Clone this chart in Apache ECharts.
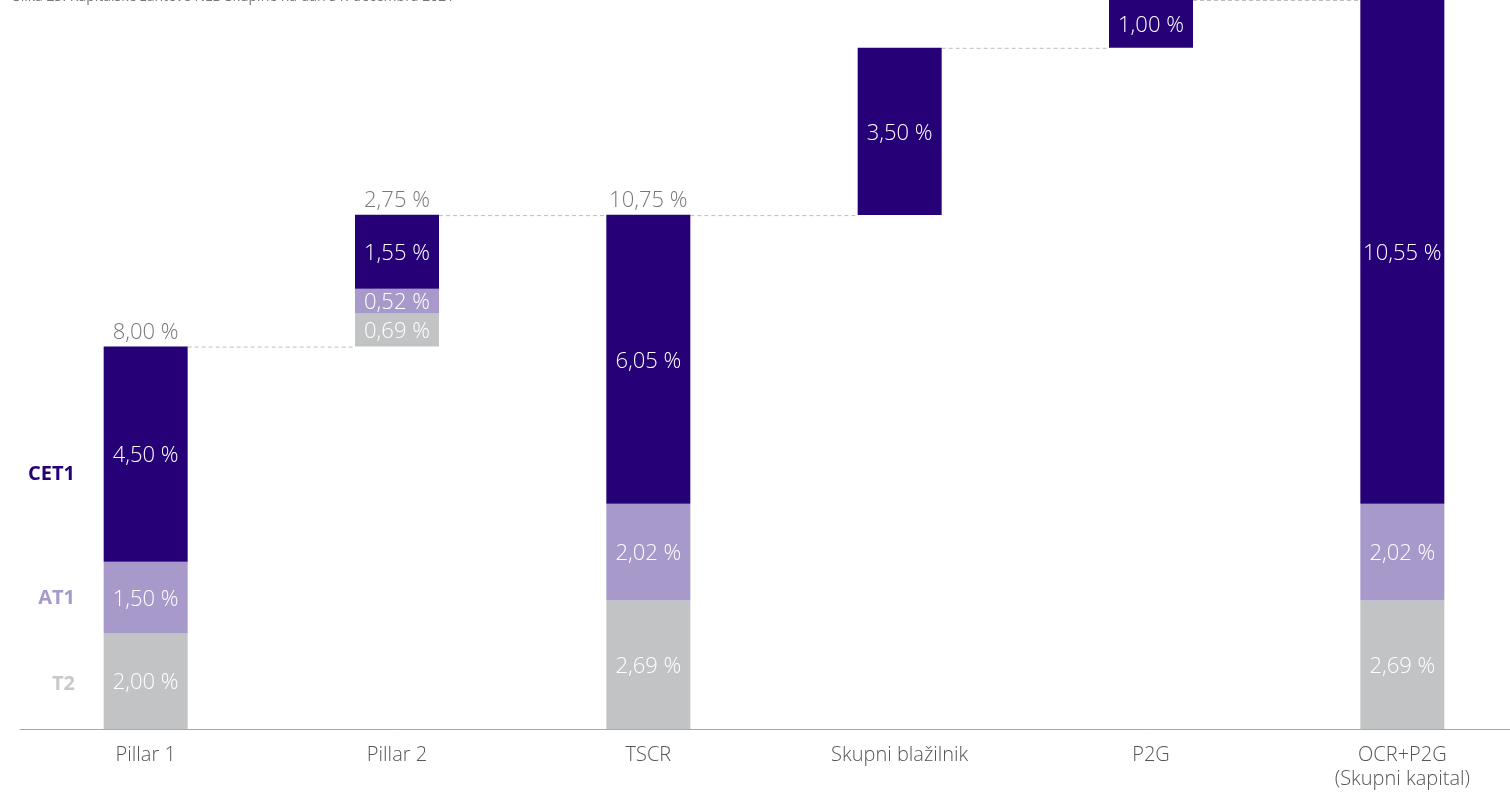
<!DOCTYPE html>
<html>
<head>
<meta charset="utf-8">
<script src="https://cdn.jsdelivr.net/npm/echarts@6/dist/echarts.min.js"></script>
<style>
  html, body { margin: 0; padding: 0; background: #fff; overflow: hidden; }
  #main { width: 1530px; height: 792px; }
</style>
</head>
<body>
<div id="main"></div>
<script>
// kategorije in vrednosti (v %)
const categories = ['Pillar 1', 'Pillar 2', 'TSCR', 'Skupni blažilnik', 'P2G', 'OCR+P2G\n(Skupni kapital)'];
const baseValues = [0, 8.00, 0, 10.75, 14.25, 0];
const t2Values = [2.00, 0.69, 2.69, '-', '-', 2.69];
const at1Values = [1.50, 0.52, 2.02, '-', '-', 2.02];
const cet1Values = [4.50, 1.55, 6.05, 3.50, 1.00, 10.55];
const totalValues = [8.00, 10.75, 10.75, '-', '-', '-'];
const totalLabels = ['8,00 %', '2,75 %', '10,75 %', '', '', ''];
// nivoji povezovalnih črt med stolpci
const connectorLevels = [8.00, 10.75, 10.75, 14.25, 15.25];

const CET1 = '#250077';
const AT1 = '#a899cb';
const T2 = '#c2c3c4';
const FONT = 'Open Sans';
const BAR_W = 84;

const fmt = v => v.toFixed(2).replace('.', ',') + ' %';

const chart = echarts.init(document.getElementById('main'));

const insideLabel = {
  show: true,
  position: 'inside',
  color: '#fff',
  fontFamily: FONT,
  fontWeight: 300,
  fontSize: 22,
  offset: [0, 2],
  formatter: p => fmt(p.value)
};

chart.setOption({
  animation: false,
  textStyle: { fontFamily: FONT },
  grid: { left: 20, right: 2, top: -3, bottom: 63 },
  xAxis: {
    type: 'category',
    data: categories,
    axisTick: { show: false },
    axisLine: { lineStyle: { color: '#a8a8a8', width: 1 } },
    axisLabel: { color: '#555', fontSize: 20, fontWeight: 300, margin: 14, lineHeight: 24, fontFamily: FONT }
  },
  yAxis: { type: 'value', min: 0, max: 15.25, show: false, splitLine: { show: false } },
  graphic: [
    { type: 'text', left: 13, top: -10, style: { text: 'Slika 23: Kapitalske zahteve NLB Skupine na dan 31. decembra 2021', fill: '#777', fontSize: 14, fontFamily: FONT } },
    { type: 'text', right: 1455, top: 464, style: { text: 'CET1', fill: CET1, fontSize: 20, fontWeight: 'bold', fontFamily: FONT, align: 'right' } },
    { type: 'text', right: 1455, top: 588, style: { text: 'AT1', fill: AT1, fontSize: 20, fontWeight: 'bold', fontFamily: FONT, align: 'right' } },
    { type: 'text', right: 1455, top: 674, style: { text: 'T2', fill: '#c8c8c8', fontSize: 20, fontWeight: 'bold', fontFamily: FONT, align: 'right' } }
  ],
  series: [
    { name: 'base', type: 'bar', stack: 'a', barWidth: BAR_W, data: baseValues,
      itemStyle: { color: 'transparent' }, emphasis: { disabled: true }, silent: true },
    { name: 'T2', type: 'bar', stack: 'a', barWidth: BAR_W, data: t2Values,
      itemStyle: { color: T2 }, label: insideLabel },
    { name: 'AT1', type: 'bar', stack: 'a', barWidth: BAR_W, data: at1Values,
      itemStyle: { color: AT1 }, label: insideLabel },
    { name: 'CET1', type: 'bar', stack: 'a', barWidth: BAR_W, data: cet1Values,
      itemStyle: { color: CET1 }, label: insideLabel },
    { name: 'total', type: 'scatter', symbolSize: 0, data: totalValues,
      label: { show: true, position: 'top', distance: 3, color: '#555', fontSize: 22, fontWeight: 300, fontFamily: FONT,
        formatter: p => totalLabels[p.dataIndex] } },
    { name: 'connectors', type: 'custom', silent: true, z: 1,
      data: connectorLevels.map((v, i) => [i, v]),
      renderItem: (params, api) => {
        const i = api.value(0);
        const a = api.coord([i, api.value(1)]);
        const b = api.coord([i + 1, api.value(1)]);
        return {
          type: 'line',
          shape: { x1: a[0] + BAR_W / 2, y1: a[1] + 0.5, x2: b[0] - BAR_W / 2, y2: b[1] + 0.5 },
          style: { stroke: '#bdbdbd', lineWidth: 1, lineDash: [4, 3] }
        };
      } }
  ]
});
</script>
</body>
</html>
